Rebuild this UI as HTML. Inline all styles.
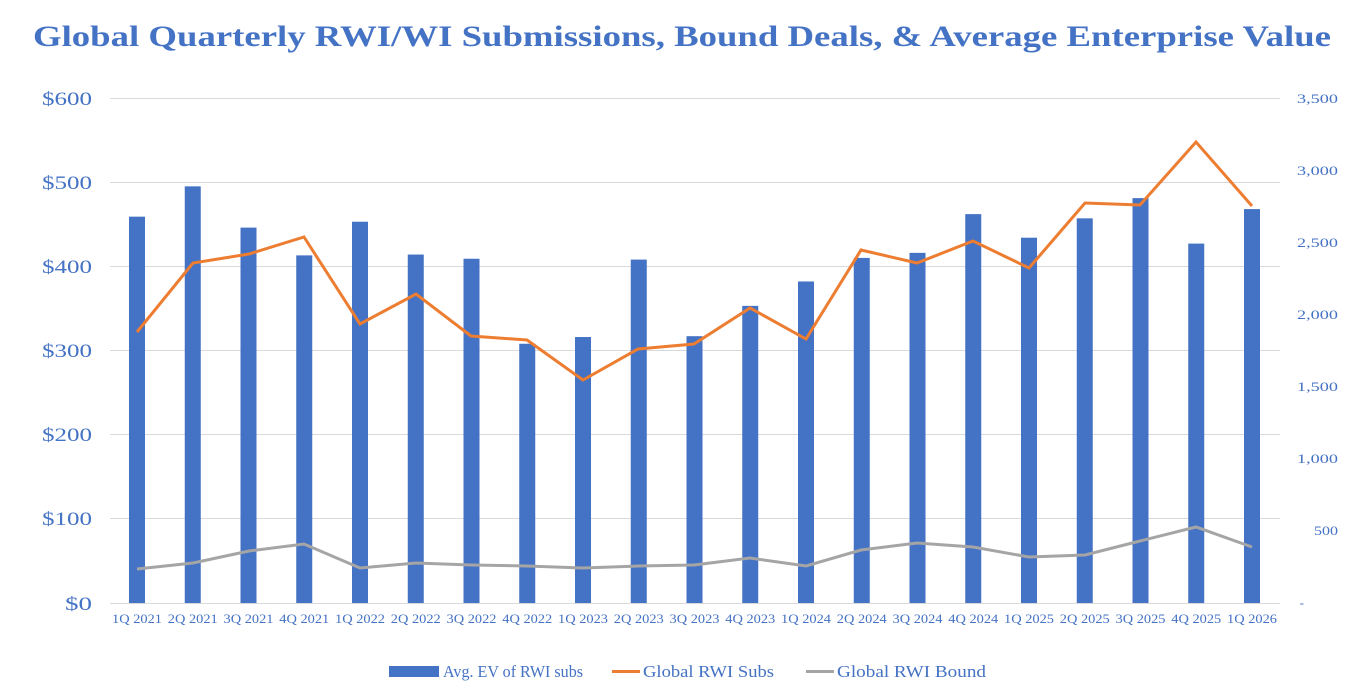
<!DOCTYPE html>
<html><head><meta charset="utf-8"><style>
body{margin:0;background:#fff;}
svg{display:block;font-family:"Liberation Serif",serif;}
</style></head><body>
<svg width="1372" height="694" viewBox="0 0 1372 694">
<text x="33" y="46" font-size="30" font-weight="bold" fill="#4472C4" textLength="1298" lengthAdjust="spacingAndGlyphs">Global Quarterly RWI/WI Submissions, Bound Deals, &amp; Average Enterprise Value</text>
<g stroke="#d9d9d9" stroke-width="1">
<line x1="110" x2="1280" y1="98.5" y2="98.5"/>
<line x1="110" x2="1280" y1="182.5" y2="182.5"/>
<line x1="110" x2="1280" y1="266.5" y2="266.5"/>
<line x1="110" x2="1280" y1="350.5" y2="350.5"/>
<line x1="110" x2="1280" y1="434.5" y2="434.5"/>
<line x1="110" x2="1280" y1="518.5" y2="518.5"/>
<line x1="110" x2="1280" y1="603.5" y2="603.5"/>
</g>
<g font-size="19" fill="#4472C4" text-anchor="end">
<text x="92" y="105" textLength="50" lengthAdjust="spacingAndGlyphs">$600</text><text x="92" y="189" textLength="50" lengthAdjust="spacingAndGlyphs">$500</text><text x="92" y="273" textLength="50" lengthAdjust="spacingAndGlyphs">$400</text><text x="92" y="357" textLength="50" lengthAdjust="spacingAndGlyphs">$300</text><text x="92" y="441" textLength="50" lengthAdjust="spacingAndGlyphs">$200</text><text x="92" y="525" textLength="50" lengthAdjust="spacingAndGlyphs">$100</text><text x="92" y="610" textLength="27" lengthAdjust="spacingAndGlyphs">$0</text>
</g>
<g font-size="13" fill="#4472C4" text-anchor="end">
<text x="1338" y="103" textLength="41" lengthAdjust="spacingAndGlyphs">3,500</text><text x="1338" y="175" textLength="41" lengthAdjust="spacingAndGlyphs">3,000</text><text x="1338" y="247" textLength="41" lengthAdjust="spacingAndGlyphs">2,500</text><text x="1338" y="319" textLength="41" lengthAdjust="spacingAndGlyphs">2,000</text><text x="1338" y="391" textLength="41" lengthAdjust="spacingAndGlyphs">1,500</text><text x="1338" y="463" textLength="41" lengthAdjust="spacingAndGlyphs">1,000</text><text x="1338" y="535" textLength="24" lengthAdjust="spacingAndGlyphs">500</text><text x="1304" y="607">-</text>
</g>
<g fill="#4472C4" id="bars"></g>
<polyline fill="none" stroke="#A5A5A5" stroke-width="3" points="137,569 193,563 249,551 304,544 360,568 416,563 471,565 527,566 583,568 638,566 694,565 750,558 806,566 861,550 917,543 973,547 1029,557 1085,555 1140,541 1196,527 1252,547"/>
<polyline fill="none" stroke="#ED7D31" stroke-width="3" points="137,332 193,263 249,254 304,237 360,324 416,294 471,336 527,340 583,380 638,349 694,344 750,308 806,339 861,250 917,263 973,241 1029,268 1085,203 1140,205 1196,142 1252,206"/>
<g id="xl" font-size="12.5" fill="#4472C4" text-anchor="middle"></g>
<rect x="389" y="666" width="50" height="11" fill="#4472C4"/>
<text x="443" y="677" font-size="17" fill="#4472C4" textLength="140" lengthAdjust="spacingAndGlyphs">Avg. EV of RWI subs</text>
<line x1="612" x2="640" y1="671.5" y2="671.5" stroke="#ED7D31" stroke-width="3"/>
<text x="643" y="677" font-size="17" fill="#4472C4" textLength="131" lengthAdjust="spacingAndGlyphs">Global RWI Subs</text>
<line x1="806" x2="834" y1="671.5" y2="671.5" stroke="#A5A5A5" stroke-width="3"/>
<text x="837" y="677" font-size="17" fill="#4472C4" textLength="149" lengthAdjust="spacingAndGlyphs">Global RWI Bound</text>
<script>
var v=[459,495,446,413,453,414,409,308,316,408,317,353,382,410,416,462,434,457,481,427,468];
var l=["1Q 2021","2Q 2021","3Q 2021","4Q 2021","1Q 2022","2Q 2022","3Q 2022","4Q 2022","1Q 2023","2Q 2023","3Q 2023","4Q 2023","1Q 2024","2Q 2024","3Q 2024","4Q 2024","1Q 2025","2Q 2025","3Q 2025","4Q 2025","1Q 2026"];
var b=document.getElementById('bars'),x=document.getElementById('xl'),ns="http://www.w3.org/2000/svg";
for(var i=0;i<21;i++){var c=137+i*55.75,h=v[i]*0.8417;
var r=document.createElementNS(ns,'rect');r.setAttribute('x',c-8);r.setAttribute('y',603-h);r.setAttribute('width',16);r.setAttribute('height',h);b.appendChild(r);
var t=document.createElementNS(ns,'text');t.setAttribute('x',c);t.setAttribute('y',623);t.setAttribute('textLength',50);t.setAttribute('lengthAdjust','spacingAndGlyphs');t.textContent=l[i];x.appendChild(t);}
</script>
</svg>
</body></html>
